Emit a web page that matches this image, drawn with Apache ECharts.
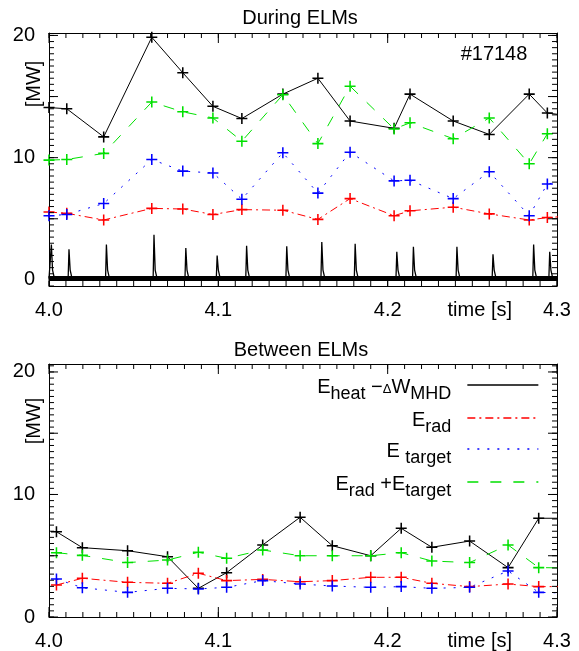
<!DOCTYPE html>
<html><head><meta charset="utf-8">
<script src="https://cdn.jsdelivr.net/npm/echarts@6/dist/echarts.min.js"></script>
<style>html,body{margin:0;padding:0;background:#fff}#c{width:579px;height:651px}</style>
</head><body><div id="c"></div>
<script>
// ---------- Data: "During ELMs" panel ----------
const timesDuring  = [4.0, 4.0105, 4.0323, 4.0607, 4.079, 4.0968, 4.1139, 4.1381, 4.1588, 4.1778, 4.2038, 4.2132, 4.2387, 4.26, 4.2836, 4.2943, 4.306];
const heatDuring   = [14.1, 14.0, 11.7, 19.85, 16.95, 14.2, 13.2, 15.2, 16.5, 13.0, 12.4, 15.2, 13.0, 11.9, 15.2, 13.65, 13.45];
const radDuring    = [5.55, 5.45, 4.9, 5.85, 5.8, 5.35, 5.75, 5.7, 4.95, 6.65, 5.25, 5.65, 5.95, 5.4, 4.9, 5.1, 5.2];
const targetDuring = [5.25, 5.35, 6.25, 9.85, 8.9, 8.75, 6.6, 10.4, 7.1, 10.45, 8.1, 8.15, 6.65, 8.85, 5.25, 7.85, 8.1];
const sumDuring    = [9.8, 9.85, 10.35, 14.55, 13.75, 13.25, 11.35, 15.15, 11.15, 15.85, 12.35, 12.85, 11.55, 13.25, 9.5, 11.95, 12.05];

// ELM monitor trace (spike times and heights)
const elmTimes = [4.0014, 4.0118, 4.0339, 4.0620, 4.0808, 4.0993, 4.1167, 4.1404, 4.1611, 4.1808, 4.2054, 4.2152, 4.2409, 4.2622, 4.2862, 4.2957];
const elmPeaks = [2.9, 2.5, 2.9, 3.7, 2.6, 2.0, 2.8, 2.75, 3.1, 2.95, 2.3, 2.7, 2.7, 2.1, 2.9, 2.3];
const elmBase = 0.12;

// ---------- Data: "Between ELMs" panel ----------
const timesBetween  = [4.0044, 4.0197, 4.0464, 4.070, 4.0882, 4.1049, 4.1262, 4.1483, 4.1673, 4.190, 4.208, 4.2261, 4.2484, 4.2711, 4.2892, 4.31];
const heatBetween   = [6.96, 5.66, 5.41, 4.92, 2.34, 3.62, 5.88, 8.14, 5.82, 5.0, 7.24, 5.69, 6.2, 4.03, 8.06, 8.06];
const radBetween    = [2.61, 3.16, 2.83, 2.75, 3.57, 2.97, 3.07, 2.88, 2.97, 3.24, 3.24, 2.75, 2.48, 2.69, 2.48, 2.48];
const targetBetween = [3.1, 2.39, 2.01, 2.34, 2.29, 2.42, 2.97, 2.69, 2.53, 2.42, 2.48, 2.34, 2.42, 3.76, 2.01, 1.94];
const sumBetween    = [5.25, 5.03, 4.44, 4.65, 5.28, 4.79, 5.47, 5.0, 5.0, 5.0, 5.25, 4.57, 4.44, 5.88, 4.03, 4.0];

// ---------- Axis labels / tick positions ----------
const xLabelValues = [4.0, 4.1, 4.2, 4.2544, 4.3];
const xTimeLabelAt = 4.2544;
const yLabelValues = [0, 10, 20];
const xMajorTicks = [4.0, 4.1, 4.2, 4.3];
const yMajorTicks = [0, 5, 10, 15, 20];
const xMinorTicks = []; for (let i = 0; i <= 30; i++) xMinorTicks.push(+(4 + i * 0.01).toFixed(2));
const yMinorAll = []; for (let i = -1; i <= 41; i++) yMinorAll.push(i * 0.5);

const seriesNames = ['heat', 'rad', 'target', 'sum'];

const FONT = 'Liberation Sans, Arial, Helvetica, sans-serif';
const colors = {heat: '#000000', rad: '#ff0000', target: '#0000ff', sum: '#00e000'};
const dashes = {heat: 'solid', rad: [8, 4, 2, 4], target: [2, 8], sum: [11, 12]};
const PLUS = 'path://M4.3,0H5.7V4.3H10V5.7H5.7V10H4.3V5.7H0V4.3H4.3Z';

const zip = (t, v) => t.map((x, i) => [x, v[i]]);

// panel geometry (pixels) and value ranges
const W = 579, GL = 49, GR = 22, GH = 253;
const panelTop = [33, 364];
const yRanges = [[-0.5, 20.2], [0, 20.65]];
const X0 = 4.0, X1 = 4.3;
const TICK_MAJOR = 10, TICK_MINOR = 5, YTICK_MAJOR = 9;

const grids = [0, 1].map(g => ({left: GL, right: GR, top: panelTop[g], height: GH, show: false}));

const LINE = () => ({show: true, onZero: false, lineStyle: {color: '#000', width: 1}});

const xAxes = [], yAxes = [];
[0, 1].forEach(g => {
  xAxes.push({gridIndex: g, type: 'value', min: X0, max: X1, position: 'bottom',
    axisLine: LINE(), axisTick: {show: false}, minorTick: {show: false}, splitLine: {show: false},
    axisLabel: {show: true, customValues: xLabelValues, margin: 14, fontSize: 20, color: '#000', fontFamily: FONT,
      formatter: v => Math.abs(v - xTimeLabelAt) < 1e-6 ? 'time [s]' : v.toFixed(1)}});
  xAxes.push({gridIndex: g, type: 'value', min: X0, max: X1, position: 'top',
    axisLine: LINE(), axisTick: {show: false}, minorTick: {show: false}, splitLine: {show: false}, axisLabel: {show: false}});
  yAxes.push({gridIndex: g, type: 'value', min: yRanges[g][0], max: yRanges[g][1], position: 'left',
    axisLine: LINE(), axisTick: {show: false}, minorTick: {show: false}, splitLine: {show: false},
    axisLabel: {show: true, customValues: yLabelValues, margin: 14, fontSize: 20, color: '#000', fontFamily: FONT}});
  yAxes.push({gridIndex: g, type: 'value', min: yRanges[g][0], max: yRanges[g][1], position: 'right',
    axisLine: LINE(), axisTick: {show: false}, minorTick: {show: false}, splitLine: {show: false}, axisLabel: {show: false}});
});

const series = [];

// ---- inward tick marks (IDL style), drawn as short segments through the axes' scales ----
const pxPerX = (W - GL - GR) / (X1 - X0);
function tickLines(g, segs) {
  const data = [];
  segs.forEach(s => { data.push(s[0], s[1], [s[0][0], '-']); });
  return {type: 'line', xAxisIndex: 2 * g, yAxisIndex: 2 * g, data: data, clip: false, silent: true,
    symbol: 'none', connectNulls: false, lineStyle: {color: '#000', width: 1}, emphasis: {disabled: true}, z: 3};
}
[0, 1].forEach(g => {
  const [yMin, yMax] = yRanges[g];
  const pxPerY = GH / (yMax - yMin);
  const dyMaj = TICK_MAJOR / pxPerY, dyMin = TICK_MINOR / pxPerY;
  const dxMaj = YTICK_MAJOR / pxPerX, dxMin = TICK_MINOR / pxPerX;
  const yMinor = yMinorAll.filter(v => v >= yMin && v <= yMax);
  const segs = [];
  xMajorTicks.forEach(x => { segs.push([[x, yMin], [x, yMin + dyMaj]]); segs.push([[x, yMax], [x, yMax - dyMaj]]); });
  xMinorTicks.forEach(x => { segs.push([[x, yMin], [x, yMin + dyMin]]); segs.push([[x, yMax], [x, yMax - dyMin]]); });
  yMajorTicks.forEach(y => { segs.push([[X0, y], [X0 + dxMaj, y]]); segs.push([[X1, y], [X1 - dxMaj, y]]); });
  yMinor.forEach(y => { segs.push([[X0, y], [X0 + dxMin, y]]); segs.push([[X1, y], [X1 - dxMin, y]]); });
  series.push(tickLines(g, segs));
});

// ---- ELM monitor trace in top panel ----
const elmTrace = [[4.0, elmBase]];
elmTimes.forEach((t, i) => {
  elmTrace.push([t - 0.0005, elmBase], [t, elmPeaks[i]], [t + 0.0007, 0.8], [t + 0.0018, elmBase]);
});
elmTrace.push([4.3, elmBase]);
series.push({name: 'elmBand', type: 'line', xAxisIndex: 0, yAxisIndex: 0, data: [[4.0, elmBase], [4.3, elmBase]],
  symbol: 'none', lineStyle: {color: '#000', width: 5}, silent: true, z: 1});
series.push({name: 'elmTrace', type: 'line', xAxisIndex: 0, yAxisIndex: 0, data: elmTrace,
  symbol: 'none', lineStyle: {color: '#000', width: 1.3}, silent: true, z: 1});

// ---- power balance series ----
const panelData = [
  {t: timesDuring, heat: heatDuring, rad: radDuring, target: targetDuring, sum: sumDuring},
  {t: timesBetween, heat: heatBetween, rad: radBetween, target: targetBetween, sum: sumBetween}
];
[0, 1].forEach(g => {
  const d = panelData[g];
  seriesNames.forEach(k => {
    series.push({
      name: k, type: 'line', xAxisIndex: 2 * g, yAxisIndex: 2 * g,
      data: zip(d.t, d[k]), clip: true,
      symbol: PLUS, symbolSize: 11, showSymbol: true, showAllSymbol: true,
      itemStyle: {color: colors[k]},
      lineStyle: {color: colors[k], width: 1, type: dashes[k]},
      z: 2
    });
  });
});

const legendText = {
  heat: '{m|E}{s|heat}{m| \u2212}{d|\u0394}{m|W}{s|MHD}',
  rad: '{m|E}{s|rad}',
  target: '{m|E }{s|target}',
  sum: '{m|E}{s|rad}{m| +E}{s|target}'
};
const legendTops = [377, 410, 441, 474];
const legends = seriesNames.map((k, i) => ({
  data: [k], orient: 'vertical', align: 'right', right: 40, top: legendTops[i],
  itemWidth: 71, itemHeight: 14, padding: 0, selectedMode: false,
  itemStyle: {opacity: 0},
  lineStyle: {color: colors[k], width: 1.3, type: dashes[k], opacity: 1},
  formatter: () => legendText[k],
  textStyle: {
    padding: [6, 11, 0, 0], color: '#000', fontFamily: FONT,
    rich: {
      m: {fontSize: 20, lineHeight: 22, verticalAlign: 'top', color: '#000', fontFamily: FONT},
      s: {fontSize: 18, lineHeight: 20, verticalAlign: 'top', padding: [8, 0, 0, 0], color: '#000', fontFamily: FONT},
      d: {fontSize: 13, lineHeight: 13, verticalAlign: 'top', padding: [6, 0, 0, 0], color: '#000', fontFamily: FONT}
    }
  }
}));

const txt = (x, y, text, extra) => Object.assign({type: 'text', x: x, y: y,
  style: {text: text, fontSize: 20, fontFamily: FONT, fill: '#000', align: 'center', verticalAlign: 'middle'}}, extra || {});

const chart = echarts.init(document.getElementById('c'), null, {renderer: 'canvas'});
chart.setOption({
  animation: false,
  backgroundColor: '#fff',
  tooltip: {show: false},
  grid: grids,
  xAxis: xAxes,
  yAxis: yAxes,
  legend: legends,
  series: series,
  graphic: [
    txt(300, 18, 'During ELMs'),
    txt(301, 350, 'Between ELMs'),
    txt(494, 54, '#17148'),
    txt(34, 84, '[MW]', {rotation: Math.PI / 2}),
    txt(34, 421, '[MW]', {rotation: Math.PI / 2})
  ]
});
</script></body></html>
